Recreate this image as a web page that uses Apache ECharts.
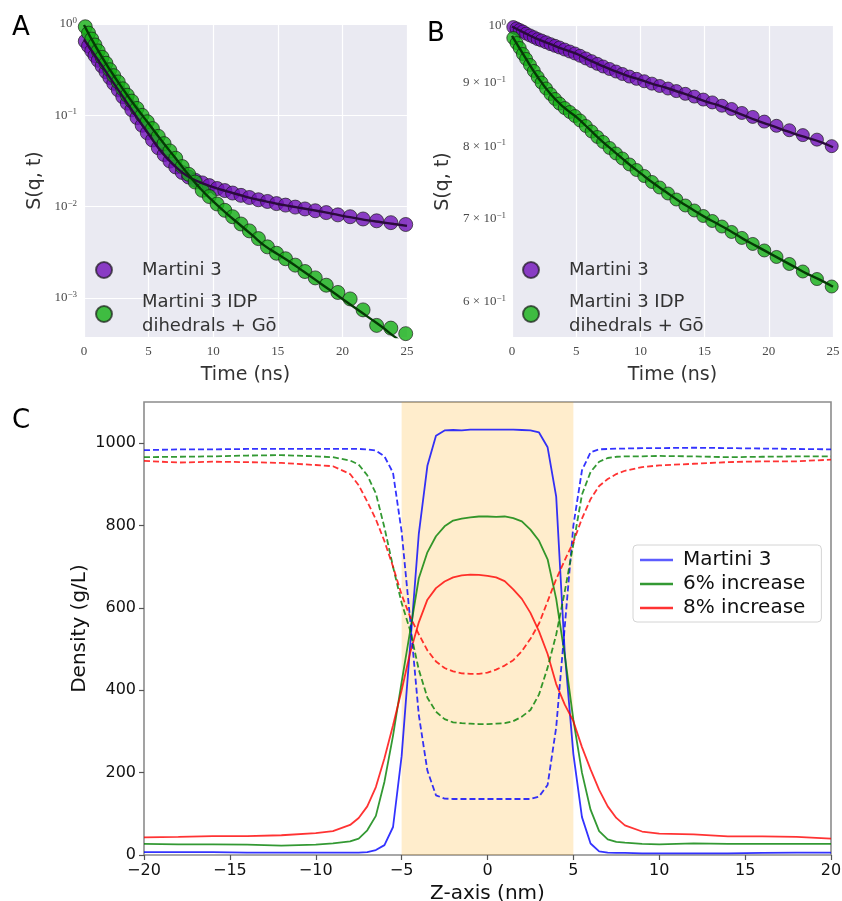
<!DOCTYPE html>
<html>
<head>
<meta charset="utf-8">
<script src="https://cdn.jsdelivr.net/npm/echarts@6/dist/echarts.min.js"></script>
<style>
  html, body { margin: 0; padding: 0; background: #ffffff; }
  #main { width: 842px; height: 901px; }
</style>
</head>
<body>
<div id="main"></div>
<script>
// ---- Panels A and B: intermediate scattering function S(q, t) ----
const timeNs = [0.1, 0.35, 0.6, 0.85, 1.1, 1.4, 1.7, 2.0, 2.3, 2.65, 3.0, 3.35, 3.7, 4.1, 4.5,
  4.9, 5.3, 5.75, 6.2, 6.65, 7.1, 7.6, 8.1, 8.6, 9.15, 9.7, 10.3, 10.9, 11.5, 12.15, 12.8,
  13.5, 14.2, 14.9, 15.6, 16.35, 17.1, 17.9, 18.75, 19.65, 20.6, 21.6, 22.65, 23.75, 24.9];

const sqtMartiniA = [0.647, 0.574, 0.509, 0.451, 0.400, 0.346, 0.300, 0.259, 0.224, 0.190,
  0.160, 0.136, 0.115, 0.0944, 0.0778, 0.0643, 0.0537, 0.0442, 0.0372, 0.0316, 0.0272,
  0.0237, 0.0211, 0.0195, 0.0182, 0.0170, 0.0158, 0.0150, 0.0141, 0.0133, 0.0126, 0.0119,
  0.0114, 0.0108, 0.0104, 0.00989, 0.00944, 0.00902, 0.00861, 0.00813, 0.00776, 0.00733,
  0.00700, 0.00668, 0.00638];
const sqtIdpA = [0.933, 0.794, 0.684, 0.589, 0.507, 0.432, 0.372, 0.316, 0.272, 0.232,
  0.195, 0.166, 0.143, 0.119, 0.100, 0.0851, 0.0716, 0.0589, 0.0490, 0.0407, 0.0339,
  0.0275, 0.0226, 0.0186, 0.0151, 0.0129, 0.0107, 0.00912, 0.00776, 0.00646, 0.00543,
  0.00447, 0.00363, 0.00309, 0.00269, 0.00229, 0.00195, 0.00166, 0.00138, 0.00115,
  0.000977, 0.000741, 0.000501, 0.000468, 0.000407];

const sqtMartiniB = [0.998, 0.9954, 0.9926, 0.9899, 0.986, 0.9827, 0.9795, 0.976, 0.9735,
  0.9703, 0.967, 0.964, 0.961, 0.9574, 0.9539, 0.9504, 0.9464, 0.9417, 0.937, 0.9323,
  0.9278, 0.9235, 0.9192, 0.915, 0.9106, 0.9068, 0.9028, 0.8988, 0.8949, 0.8907, 0.8865,
  0.882, 0.8775, 0.8727, 0.8681, 0.8628, 0.8576, 0.8513, 0.8451, 0.8378, 0.8313, 0.8245,
  0.8171, 0.8103, 0.8006];
const sqtIdpB = [0.978, 0.969, 0.9601, 0.9495, 0.9408, 0.9304, 0.9202, 0.9099, 0.9006,
  0.8908, 0.8817, 0.8736, 0.8663, 0.8591, 0.8528, 0.8465, 0.8395, 0.831, 0.8226, 0.8143,
  0.8068, 0.7979, 0.7898, 0.7825, 0.7739, 0.766, 0.7575, 0.7492, 0.7416, 0.7334, 0.7253,
  0.7173, 0.7107, 0.7035, 0.697, 0.6899, 0.683, 0.6755, 0.668, 0.66, 0.6521, 0.6437,
  0.6348, 0.626, 0.6174];

// fitted decay curves
const fitTime = [0, 1, 2, 3, 4, 5, 6, 7, 8, 9, 10, 11, 12, 13, 14, 15, 16, 17, 18, 19, 20,
  21, 22, 23, 24, 25];
const fitMartiniA = [0.679, 0.420, 0.259, 0.160, 0.0991, 0.0624, 0.0398, 0.0282, 0.0216,
  0.0184, 0.0164, 0.0148, 0.0135, 0.0123, 0.0115, 0.0107, 0.0101, 0.00955, 0.00902,
  0.00851, 0.00794, 0.0075, 0.00708, 0.00676, 0.00646, 0.00617];
const fitIdpA = [0.977, 0.537, 0.316, 0.195, 0.124, 0.0813, 0.0531, 0.0351, 0.0232, 0.0158,
  0.0114, 0.00851, 0.00646, 0.0049, 0.00372, 0.00302, 0.00245, 0.00195, 0.00155, 0.00123,
  0.000977, 0.000776, 0.000617, 0.00049, 0.00038, 0.000302];
const fitMartiniB = [0.999, 0.987, 0.976, 0.967, 0.958, 0.950, 0.939, 0.929, 0.920, 0.912,
  0.905, 0.898, 0.892, 0.885, 0.878, 0.870, 0.864, 0.856, 0.848, 0.840, 0.833, 0.826,
  0.819, 0.813, 0.807, 0.799];
const fitIdpB = [0.9817, 0.9443, 0.9099, 0.8817, 0.8608, 0.8451, 0.8265, 0.8082, 0.7919,
  0.776, 0.7616, 0.7477, 0.7355, 0.7233, 0.7126, 0.7023, 0.6934, 0.6843, 0.6743, 0.6656,
  0.657, 0.6486, 0.6402, 0.632, 0.625, 0.6171];

// log-axis tick labels: [mantissa text, exponent text]
const yTicksA = [0.001, 0.01, 0.1, 1];
const yTickTextA = [['10', '−3'], ['10', '−2'], ['10', '−1'], ['10', '0']];
const yTicksB = [0.6, 0.7, 0.8, 0.9, 1];
const yTickTextB = [['6 × 10', '−1'], ['7 × 10', '−1'], ['8 × 10', '−1'], ['9 × 10', '−1'], ['10', '0']];

const nameM3 = 'Martini 3';
const nameIdp = 'Martini 3 IDP\ndihedrals + Gō';

// ---- Panel C: density profiles along z ----
const zNm = [-20, -18, -16, -14, -12, -10, -9, -8, -7.5, -7, -6.5, -6, -5.5, -5, -4.5, -4,
  -3.5, -3, -2.5, -2, -1.5, -1, -0.5, 0, 0.5, 1, 1.5, 2, 2.5, 3, 3.5, 4, 4.5, 5, 5.5, 6,
  6.5, 7, 7.5, 8, 9, 10, 12, 14, 16, 18, 20];
const densityTicks = [0, 200, 400, 600, 800, 1000];

const proteinM3 = [7, 7, 7, 6, 6, 6, 6, 6, 6, 7, 12, 24, 68, 240, 510, 780, 945, 1018, 1031,
  1032, 1031, 1033, 1033, 1033, 1033, 1033, 1033, 1032, 1031, 1026, 990, 870, 490, 245, 92,
  28, 9, 6, 5, 5, 4, 4, 4, 4, 5, 6, 6];
const waterM3 = [983, 985, 985, 986, 986, 986, 986, 986, 986, 985, 982, 968, 928, 785, 570,
  340, 205, 145, 137, 136, 136, 136, 136, 136, 136, 136, 136, 136, 136, 142, 170, 310, 555,
  800, 934, 978, 985, 986, 987, 987, 988, 988, 989, 988, 987, 986, 985];
const protein6 = [27, 26, 26, 25, 23, 25, 28, 33, 40, 60, 95, 178, 290, 420, 545, 672, 735,
  774, 798, 812, 817, 820, 822, 822, 821, 822, 818, 810, 790, 763, 718, 622, 485, 328, 200,
  110, 58, 38, 32, 30, 27, 26, 28, 27, 27, 27, 27];
const water6 = [966, 967, 968, 970, 971, 968, 966, 958, 948, 922, 878, 795, 700, 612, 545,
  450, 382, 348, 330, 322, 320, 319, 318, 318, 319, 320, 325, 336, 352, 390, 455, 535, 640,
  755, 875, 930, 955, 964, 967, 968, 968, 969, 968, 966, 967, 968, 968];
const protein8 = [43, 44, 46, 46, 48, 53, 58, 73, 90, 118, 165, 235, 315, 400, 492, 565, 620,
  648, 664, 674, 679, 681, 680, 678, 674, 665, 645, 622, 588, 543, 488, 415, 365, 325, 262,
  208, 158, 118, 90, 72, 57, 52, 50, 45, 45, 44, 40];
const water8 = [957, 953, 955, 954, 952, 947, 944, 925, 898, 858, 815, 762, 700, 632, 578,
  536, 497, 470, 454, 446, 441, 440, 440, 443, 450, 460, 473, 495, 525, 562, 616, 670, 716,
  760, 817, 864, 896, 913, 925, 933, 942, 946, 950, 954, 956, 956, 960];

const SERIF = 'Liberation Serif';
const SANS = 'DejaVu Sans';
const COL_PURPLE = '#7010b8';
const COL_GREEN = '#14b014';
const COL_BLUE = 'rgba(0,0,255,0.8)';
const COL_GREEN_C = 'rgba(0,128,0,0.8)';
const COL_RED = 'rgba(255,0,0,0.8)';

const pairs = (xs, ys) => xs.map((x, i) => [x, ys[i]]);

const supRich = {
  b: { fontFamily: SERIF, fontSize: 13, color: '#4a4a4a', lineHeight: 16 },
  s: { fontFamily: SERIF, fontSize: 9, color: '#4a4a4a', lineHeight: 16, verticalAlign: 'top' }
};
function logLabel(ticks, texts) {
  return function (v) {
    let best = 0;
    ticks.forEach((t, i) => {
      if (Math.abs(Math.log10(t) - Math.log10(v)) < Math.abs(Math.log10(ticks[best]) - Math.log10(v))) best = i;
    });
    return '{b|' + texts[best][0] + '}{s|' + texts[best][1] + '}';
  };
}

function timeAxis(gridIndex) {
  return {
    type: 'value', gridIndex, min: 0, max: 25, interval: 5,
    name: 'Time (ns)', nameLocation: 'middle', nameGap: 29,
    nameTextStyle: { fontFamily: SANS, fontSize: 19, color: '#333' },
    axisLine: { show: false, onZero: false }, axisTick: { show: false },
    axisLabel: { fontFamily: SERIF, fontSize: 13, color: '#4a4a4a', margin: 8 },
    splitLine: { show: true, lineStyle: { color: '#ffffff', width: 1.2 } }
  };
}

function scatterSeries(name, axis, t, s, color, size) {
  return {
    type: 'scatter', name, xAxisIndex: axis, yAxisIndex: axis,
    data: pairs(t, s), symbol: 'circle', symbolSize: size, z: 2,
    itemStyle: { color, borderColor: 'rgba(25,25,25,0.85)', borderWidth: 1 }
  };
}
function fitSeries(name, axis, s, color) {
  return {
    type: 'line', name, xAxisIndex: axis, yAxisIndex: axis,
    data: pairs(fitTime, s), showSymbol: false, smooth: true, z: 3,
    lineStyle: { color, width: 2.4 }, itemStyle: { color }
  };
}
function densitySeries(name, values, color, dashed) {
  return {
    type: 'line', name, xAxisIndex: 2, yAxisIndex: 2,
    data: pairs(zNm, values), showSymbol: false, smooth: false, z: 3,
    lineStyle: { color, width: 1.8, type: dashed ? [6, 3] : 'solid' },
    itemStyle: { color }
  };
}

const sqtLegend = (left) => ({
  orient: 'vertical', left, top: 253, icon: 'circle',
  itemWidth: 16, itemHeight: 16, itemGap: 8, selectedMode: false,
  data: [nameM3, nameIdp],
  textStyle: { fontFamily: SANS, fontSize: 18, color: '#333', lineHeight: 24, padding: [0, 0, 0, 25] }
});

const option = {
  animation: false,
  backgroundColor: '#ffffff',
  graphic: [
    { type: 'text', left: 12, top: 15, style: { text: 'A', fontFamily: SANS, fontSize: 26, fill: '#000' } },
    { type: 'text', left: 427, top: 21, style: { text: 'B', fontFamily: SANS, fontSize: 26, fill: '#000' } },
    { type: 'text', left: 12, top: 408, style: { text: 'C', fontFamily: SANS, fontSize: 26, fill: '#000' } }
  ],
  grid: [
    { left: 84, top: 24, width: 323, height: 313, show: true, backgroundColor: '#eaeaf2',
      borderWidth: 0, outerBoundsMode: 'none' },
    { left: 512, top: 26, width: 321, height: 311, show: true, backgroundColor: '#eaeaf2',
      borderWidth: 0, outerBoundsMode: 'none' },
    { left: 144, top: 402, width: 687, height: 453, show: true, backgroundColor: 'transparent',
      borderColor: '#8c8c8c', borderWidth: 1.6, outerBoundsMode: 'none' }
  ],
  legend: [
    sqtLegend(90),
    sqtLegend(517),
    {
      orient: 'vertical', left: 633, top: 545, selectedMode: false,
      itemWidth: 33, itemHeight: 2.5, itemGap: 2,
      backgroundColor: '#ffffff', borderColor: '#d4d4d4', borderWidth: 1, borderRadius: 4,
      padding: [4, 16, 3, 7],
      data: [
        { name: nameM3, icon: 'rect', itemStyle: { color: COL_BLUE, borderWidth: 0 } },
        { name: '6% increase', icon: 'rect', itemStyle: { color: COL_GREEN_C, borderWidth: 0 } },
        { name: '8% increase', icon: 'rect', itemStyle: { color: COL_RED, borderWidth: 0 } }
      ],
      textStyle: { fontFamily: SANS, fontSize: 20, color: '#111', lineHeight: 22, padding: [0, 0, 0, 5] }
    }
  ],
  xAxis: [
    timeAxis(0),
    timeAxis(1),
    {
      type: 'value', gridIndex: 2, min: -20, max: 20, interval: 5,
      name: 'Z-axis (nm)', nameLocation: 'middle', nameGap: 27,
      nameTextStyle: { fontFamily: SANS, fontSize: 20, color: '#111' },
      axisLine: { show: false, onZero: false },
      axisTick: { show: true, length: 5, lineStyle: { color: '#555', width: 1.2 } },
      axisLabel: { fontFamily: SANS, fontSize: 16, color: '#111', margin: 8,
        formatter: v => (v < 0 ? '−' + (-v) : String(v)) },
      splitLine: { show: false }
    }
  ],
  yAxis: [
    {
      type: 'log', logBase: 10, gridIndex: 0, min: 0.000374, max: 1,
      name: 'S(q, t)', nameLocation: 'middle', nameGap: 39,
      nameTextStyle: { fontFamily: SANS, fontSize: 19, color: '#333' },
      axisLine: { show: false, onZero: false }, axisTick: { show: false },
      axisLabel: { customValues: yTicksA, margin: 7, formatter: logLabel(yTicksA, yTickTextA), rich: supRich },
      splitLine: { show: true, lineStyle: { color: '#ffffff', width: 1.2 } }
    },
    {
      type: 'log', logBase: 10, gridIndex: 1, min: 0.5623, max: 1,
      name: 'S(q, t)', nameLocation: 'middle', nameGap: 59,
      nameTextStyle: { fontFamily: SANS, fontSize: 19, color: '#333' },
      axisLine: { show: false, onZero: false }, axisTick: { show: false },
      axisLabel: { customValues: yTicksB, margin: 6, formatter: logLabel(yTicksB, yTickTextB), rich: supRich },
      splitLine: { show: false }
    },
    {
      type: 'value', gridIndex: 2, min: 0, max: 1100, interval: 200,
      name: 'Density (g/L)', nameLocation: 'middle', nameGap: 54, nameMoveOverlap: false,
      nameTextStyle: { fontFamily: SANS, fontSize: 20, color: '#111' },
      axisLine: { show: false, onZero: false },
      axisTick: { show: true, length: 5, customValues: densityTicks, lineStyle: { color: '#555', width: 1.2 } },
      axisLabel: { fontFamily: SANS, fontSize: 16, color: '#111', margin: 8, customValues: densityTicks,
        formatter: v => String(v) },
      splitLine: { show: false }
    }
  ],
  series: [
    scatterSeries(nameM3, 0, timeNs, sqtMartiniA, COL_PURPLE, 14),
    scatterSeries(nameIdp, 0, timeNs, sqtIdpA, COL_GREEN, 14),
    fitSeries('fit M3 A', 0, fitMartiniA, '#2a0b3c'),
    fitSeries('fit IDP A', 0, fitIdpA, '#053a05'),
    scatterSeries(nameM3, 1, timeNs, sqtMartiniB, COL_PURPLE, 13),
    scatterSeries(nameIdp, 1, timeNs, sqtIdpB, COL_GREEN, 13),
    fitSeries('fit M3 B', 1, fitMartiniB, '#2a0b3c'),
    fitSeries('fit IDP B', 1, fitIdpB, '#053a05'),
    Object.assign(densitySeries(nameM3, proteinM3, COL_BLUE, false), {
      markArea: { silent: true, itemStyle: { color: 'rgba(255,165,0,0.2)' },
        data: [[{ xAxis: -5 }, { xAxis: 5 }]] }
    }),
    densitySeries('6% increase', protein6, COL_GREEN_C, false),
    densitySeries('8% increase', protein8, COL_RED, false),
    densitySeries('water M3', waterM3, COL_BLUE, true),
    densitySeries('water 6%', water6, COL_GREEN_C, true),
    densitySeries('water 8%', water8, COL_RED, true)
  ]
};

const chart = echarts.init(document.getElementById('main'));
chart.setOption(option);
</script>
</body>
</html>
